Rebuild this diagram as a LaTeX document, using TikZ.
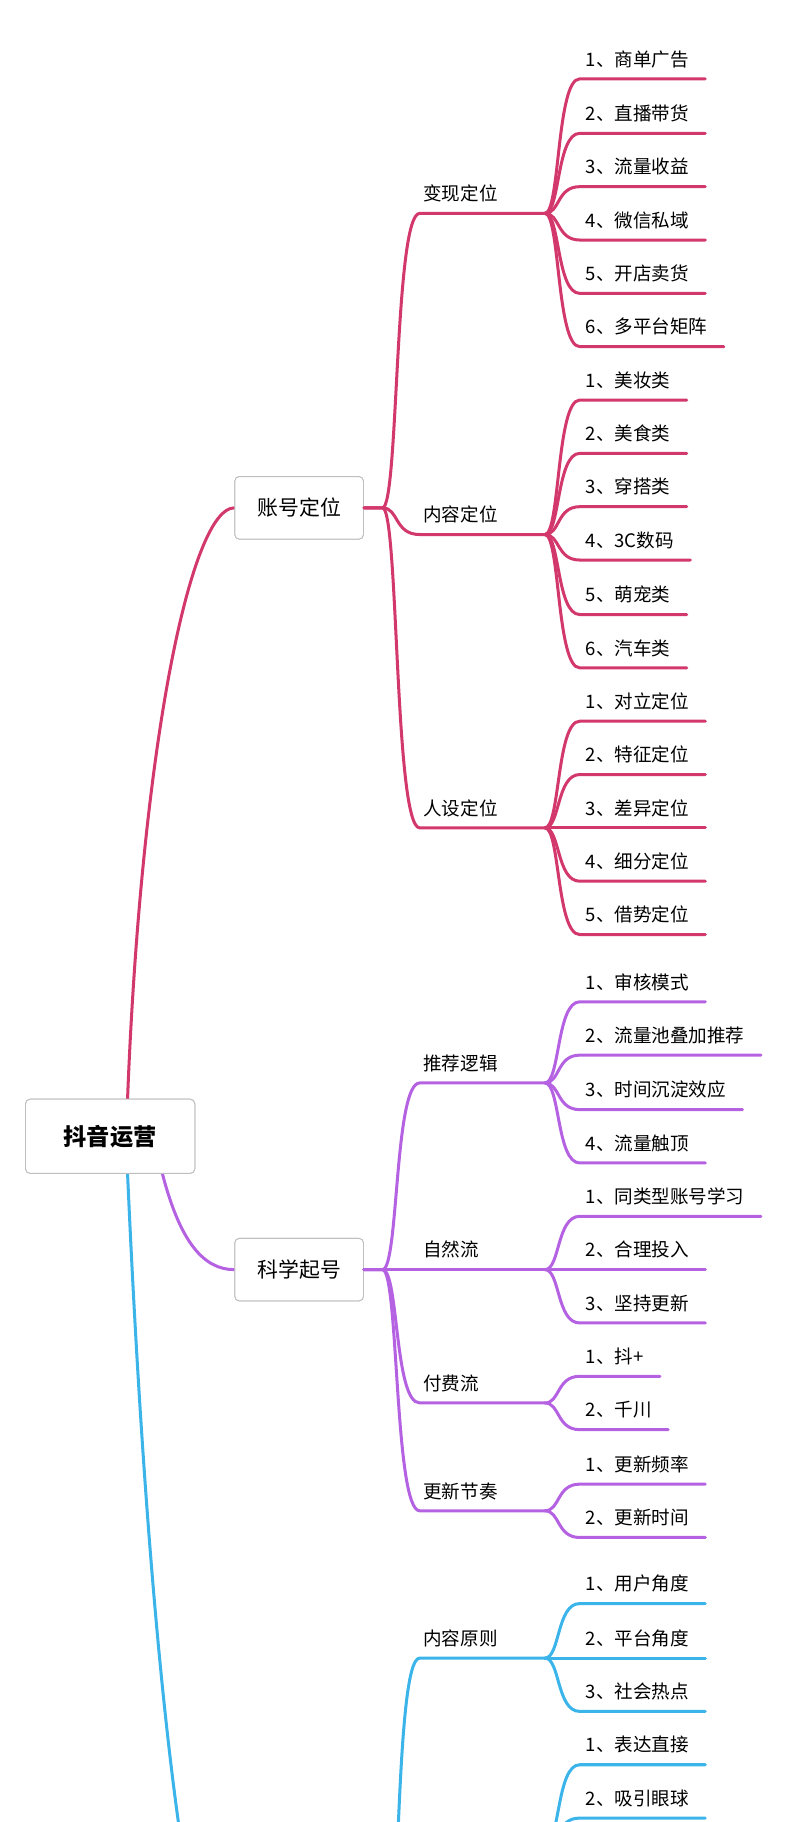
\documentclass[tikz,border=0pt]{standalone}
\usepackage{fontspec}
\setmainfont{Noto Sans CJK SC}
\usetikzlibrary{positioning}
\definecolor{pinkbr}{HTML}{D2386C}
\definecolor{purplebr}{HTML}{B562E2}
\definecolor{bluebr}{HTML}{3BB4EA}
\tikzset{
  branch/.style={line width=2.6pt, draw=#1, line cap=round},
  leaf/.style={inner sep=0pt, font=\fontsize{16}{16}\selectfont},
  topic/.style={inner sep=0pt, font=\fontsize{16}{16}\selectfont},
  box/.style={draw=black!25, fill=white, rounded corners=4pt, line width=0.8pt,
    minimum width=111pt, minimum height=54pt, font=\fontsize{18}{18}\selectfont},
  rootbox/.style={box, minimum width=146pt, minimum height=64pt,
    font=\fontsize{20}{20}\selectfont\bfseries}
}
% one group of leaves: name, colour, parent y, list of y/text
\newcommand\leafgroup[4]{%
  \foreach \y/\t [count=\i] in {#4} {
    \node[leaf, anchor=base west] (#1-\i) at (505,\y-11) {\t};
    \path (#1-\i.east) ++(14,0) coordinate (#1-\i-e);
    \draw[branch=#2] (470,#3) .. controls (483,#3) and (480,\y) .. (500,\y) -- (#1-\i-e |- 0,\y);
  }}
% one middle topic: name, colour, start point, y, text
\newcommand\topicline[5]{%
  \node[topic, anchor=base west] (#1) at (365,#4-11) {#5};
  \draw[branch=#2] #3 -- ++(16,0) .. controls +(14,0) and (340,#4) .. (362,#4) -- (470,#4);
}
\begin{document}
\begin{tikzpicture}[x=1pt, y=-1pt]
  \useasboundingbox (0,0) rectangle (690,1571.4);
  \clip (0,0) rectangle (690,1571.4);

  \node[rootbox] (root) at (95,980) {抖音运营};
  \node[box] (acct) at (258,438) {账号定位};
  \node[box] (start) at (258,1095) {科学起号};
  \coordinate (third) at (258,1800);

  % first level
  \draw[branch=pinkbr] (110,948) .. controls (122,640) and (165,438) .. (acct.west);
  \draw[branch=purplebr] (140,1012) .. controls (155,1070) and (175,1095) .. (start.west);
  \draw[branch=bluebr] (110,1012) .. controls (125,1350) and (150,1600) .. (178,1700) -- (third);
  \node[rootbox] at (root) {抖音运营};
  \node[box] at (acct) {账号定位};
  \node[box] at (start) {科学起号};

  % account positioning
  \topicline{cash}{pinkbr}{(acct.east)}{184}{变现定位}
  \topicline{cont}{pinkbr}{(acct.east)}{461}{内容定位}
  \topicline{pers}{pinkbr}{(acct.east)}{714}{人设定位}
  \leafgroup{ca}{pinkbr}{184}{68/1、商单广告, 115/2、直播带货, 161/3、流量收益, 207/4、微信私域, 253/5、开店卖货, 299/6、多平台矩阵}
  \leafgroup{co}{pinkbr}{461}{345/1、美妆类, 391/2、美食类, 437/3、穿搭类, 483/4、3C数码, 530/5、萌宠类, 576/6、汽车类}
  \leafgroup{pe}{pinkbr}{714}{622/1、对立定位, 668/2、特征定位, 714/3、差异定位, 760/4、细分定位, 806/5、借势定位}

  % starting up
  \topicline{algo}{purplebr}{(start.east)}{934}{推荐逻辑}
  \topicline{nat}{purplebr}{(start.east)}{1095}{自然流}
  \topicline{paid}{purplebr}{(start.east)}{1210}{付费流}
  \topicline{pace}{purplebr}{(start.east)}{1303}{更新节奏}
  \leafgroup{al}{purplebr}{934}{864/1、审核模式, 910/2、流量池叠加推荐, 957/3、时间沉淀效应, 1003/4、流量触顶}
  \leafgroup{na}{purplebr}{1095}{1049/1、同类型账号学习, 1095/2、合理投入, 1141/3、坚持更新}
  \leafgroup{pa}{purplebr}{1210}{1187/1、抖+, 1233/2、千川}
  \leafgroup{pc}{purplebr}{1303}{1280/1、更新频率, 1326/2、更新时间}

  % third branch
  \draw[branch=bluebr] (third) -- ++(72,0) .. controls (345,1700) and (340,1430) .. (362,1430) -- (470,1430);
  \draw[branch=bluebr] (third) -- ++(72,0) .. controls (345,1800) and (340,1591) .. (362,1591) -- (470,1591);
  \node[topic, anchor=base west] (rule) at (365,1419) {内容原则};
  \leafgroup{ru}{bluebr}{1430}{1383/1、用户角度, 1430/2、平台角度, 1476/3、社会热点}
  \leafgroup{ex}{bluebr}{1591}{1522/1、表达直接, 1568/2、吸引眼球}
\end{tikzpicture}
\end{document}
